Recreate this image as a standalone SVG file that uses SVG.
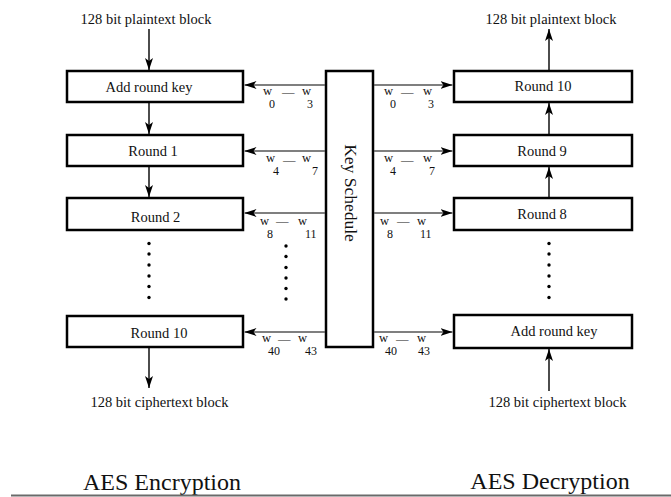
<svg xmlns="http://www.w3.org/2000/svg" width="671" height="497" viewBox="0 0 671 497">
<style>
text{font-family:"Liberation Serif","Times New Roman",serif;fill:#111}
.box{fill:#fff;stroke:#000;stroke-width:2.5}
.lbl{font-size:14.5px;text-anchor:middle}
.io{font-size:14.5px;text-anchor:middle}
.w{font-size:12.5px}
.s{font-size:12px}
.v{stroke:#000;stroke-width:1.4;fill:none}
.h{stroke:#555;stroke-width:1.5;fill:none}
.title{font-size:24px;text-anchor:middle}
</style>
<defs>
<marker id="ah" viewBox="0 0 12 8" refX="12" refY="4" markerWidth="12" markerHeight="8" markerUnits="userSpaceOnUse" orient="auto">
<path d="M0,0 L12,4 L0,8 L3,4 z" fill="#000"/>
</marker>
</defs>
<rect width="671" height="497" fill="#fff"/>

<g id="enc-add-round-key"><rect class="box" x="67" y="71" width="176" height="31"/><text class="lbl" x="149" y="91.5">Add round key</text></g>
<g id="enc-round1"><rect class="box" x="67" y="135" width="176" height="31"/><text class="lbl" x="153" y="156">Round 1</text></g>
<g id="enc-round2"><rect class="box" x="67" y="198" width="176" height="32"/><text class="lbl" x="155.5" y="221.5">Round 2</text></g>
<g id="enc-round10"><rect class="box" x="67" y="316" width="176" height="31"/><text class="lbl" x="159" y="337.5">Round 10</text></g>

<g id="dec-round10"><rect class="box" x="454" y="71" width="178" height="31"/><text class="lbl" x="543" y="91">Round 10</text></g>
<g id="dec-round9"><rect class="box" x="454" y="135" width="178" height="31"/><text class="lbl" x="542" y="156">Round 9</text></g>
<g id="dec-round8"><rect class="box" x="454" y="198" width="178" height="32"/><text class="lbl" x="542" y="218.5">Round 8</text></g>
<g id="dec-add-round-key"><rect class="box" x="454" y="315" width="178" height="33"/><text class="lbl" x="554" y="336">Add round key</text></g>

<g id="key-schedule"><rect class="box" x="326" y="71" width="47" height="276"/><text font-size="17.5" text-anchor="middle" transform="translate(345,193) rotate(90)">Key Schedule</text></g>

<g id="io-labels">
<text class="io" x="146" y="23.5">128 bit plaintext block</text>
<text class="io" x="551" y="23.5">128 bit plaintext block</text>
<text class="io" x="159.5" y="406.5">128 bit ciphertext block</text>
<text class="io" x="557.5" y="406.5">128 bit ciphertext block</text>
</g>

<g id="connectors">
<line class="v" x1="149" y1="29" x2="149" y2="70" marker-end="url(#ah)"/>
<line class="v" x1="149" y1="103" x2="149" y2="134" marker-end="url(#ah)"/>
<line class="v" x1="149" y1="167" x2="149" y2="197" marker-end="url(#ah)"/>
<line class="v" x1="149" y1="348" x2="149" y2="388" marker-end="url(#ah)"/>
<line class="v" x1="549" y1="70" x2="549" y2="29" marker-end="url(#ah)"/>
<line class="v" x1="549" y1="134" x2="549" y2="103" marker-end="url(#ah)"/>
<line class="v" x1="549" y1="197" x2="549" y2="167" marker-end="url(#ah)"/>
<line class="v" x1="549" y1="391" x2="549" y2="349" marker-end="url(#ah)"/>

<line class="h" x1="325" y1="85" x2="244.5" y2="85" marker-end="url(#ah)"/>
<line class="h" x1="325" y1="151" x2="244.5" y2="151" marker-end="url(#ah)"/>
<line class="h" x1="325" y1="213" x2="244.5" y2="213" marker-end="url(#ah)"/>
<line class="h" x1="325" y1="332" x2="244.5" y2="332" marker-end="url(#ah)"/>
<line class="h" x1="374" y1="85" x2="452.5" y2="85" marker-end="url(#ah)"/>
<line class="h" x1="374" y1="151" x2="452.5" y2="151" marker-end="url(#ah)"/>
<line class="h" x1="374" y1="213" x2="452.5" y2="213" marker-end="url(#ah)"/>
<line class="h" x1="374" y1="332" x2="452.5" y2="332" marker-end="url(#ah)"/>
</g>

<g id="key-labels">
<text class="w"><tspan x="263" y="95">w</tspan><tspan class="s" x="269" y="108">0</tspan><tspan x="282" y="96">—</tspan><tspan x="302" y="95">w</tspan><tspan class="s" x="307" y="108">3</tspan></text>
<text class="w"><tspan x="266" y="162">w</tspan><tspan class="s" x="273" y="175">4</tspan><tspan x="283" y="164">—</tspan><tspan x="302" y="162">w</tspan><tspan class="s" x="312" y="175">7</tspan></text>
<text class="w"><tspan x="260" y="225">w</tspan><tspan class="s" x="267" y="238">8</tspan><tspan x="276" y="225">—</tspan><tspan x="298" y="225">w</tspan><tspan class="s" x="305" y="238">11</tspan></text>
<text class="w"><tspan x="262" y="342">w</tspan><tspan class="s" x="268" y="355">40</tspan><tspan x="278" y="343">—</tspan><tspan x="298" y="342">w</tspan><tspan class="s" x="305" y="355">43</tspan></text>

<text class="w"><tspan x="384" y="95">w</tspan><tspan class="s" x="390" y="108">0</tspan><tspan x="401" y="96">—</tspan><tspan x="423" y="95">w</tspan><tspan class="s" x="428" y="108">3</tspan></text>
<text class="w"><tspan x="384" y="162">w</tspan><tspan class="s" x="390" y="175">4</tspan><tspan x="401" y="164">—</tspan><tspan x="423" y="162">w</tspan><tspan class="s" x="429" y="175">7</tspan></text>
<text class="w"><tspan x="380" y="225">w</tspan><tspan class="s" x="387" y="238">8</tspan><tspan x="397" y="225">—</tspan><tspan x="417" y="225">w</tspan><tspan class="s" x="420" y="238">11</tspan></text>
<text class="w"><tspan x="379" y="342">w</tspan><tspan class="s" x="385" y="355">40</tspan><tspan x="396" y="343">—</tspan><tspan x="417" y="342">w</tspan><tspan class="s" x="418" y="355">43</tspan></text>
</g>

<g id="dots" fill="#000">
<circle cx="149" cy="243.5" r="1.7"/><circle cx="149" cy="254" r="1.7"/><circle cx="149" cy="265" r="1.7"/><circle cx="149" cy="276" r="1.7"/><circle cx="149" cy="286.5" r="1.7"/><circle cx="149" cy="297.5" r="1.7"/>
<circle cx="286" cy="246" r="1.7"/><circle cx="286" cy="256.5" r="1.7"/><circle cx="286" cy="267.5" r="1.7"/><circle cx="286" cy="278" r="1.7"/><circle cx="286" cy="288.5" r="1.7"/><circle cx="286" cy="299" r="1.7"/>
<circle cx="549" cy="243.5" r="1.7"/><circle cx="549" cy="254" r="1.7"/><circle cx="549" cy="265" r="1.7"/><circle cx="549" cy="276" r="1.7"/><circle cx="549" cy="286.5" r="1.7"/><circle cx="549" cy="297.5" r="1.7"/>
</g>

<g id="titles">
<text class="title" x="162" y="490">AES Encryption</text>
<text class="title" x="550" y="489">AES Decryption</text>
</g>
<line x1="11" y1="495.5" x2="671" y2="495.5" stroke="#6a6a6a" stroke-width="2"/>
</svg>
